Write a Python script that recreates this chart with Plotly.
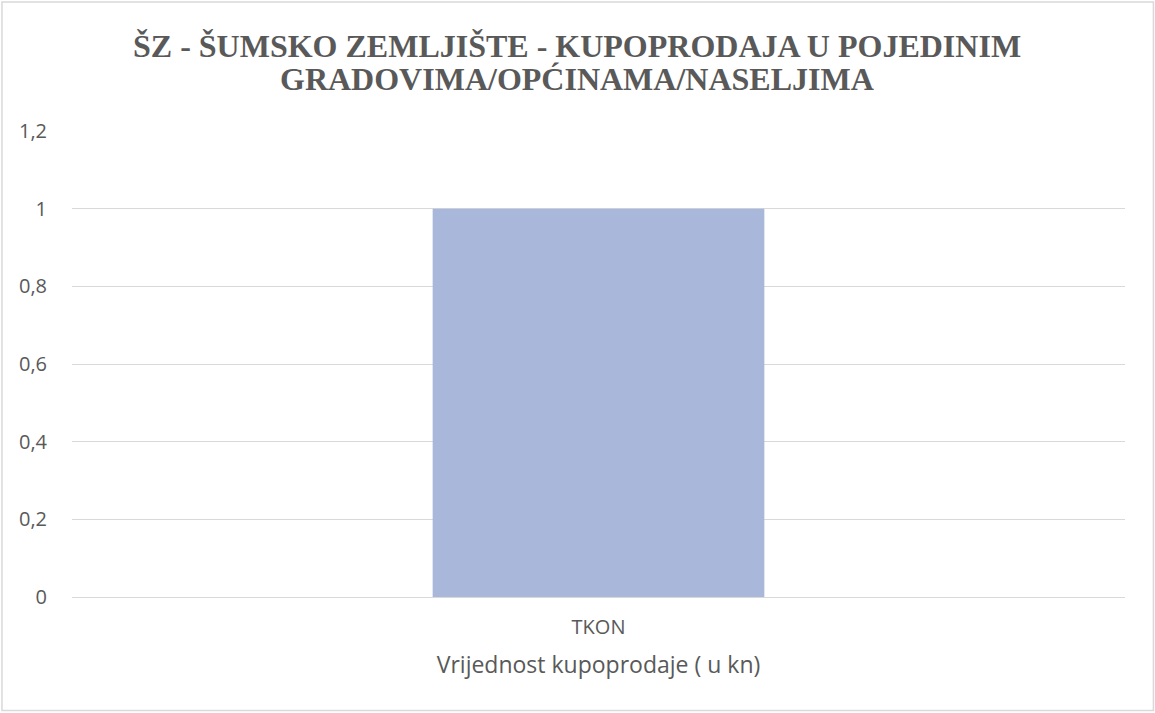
import plotly.graph_objects as go

categories = ["TKON"]
values = [1]
y_ticks = [0, 0.2, 0.4, 0.6, 0.8, 1, 1.2]
title_lines = ["ŠZ - ŠUMSKO ZEMLJIŠTE - KUPOPRODAJA U POJEDINIM", "GRADOVIMA/OPĆINAMA/NASELJIMA"]

TEXT = "#595959"
GRID = "#D9D9D9"
SANS = "Open Sans, sans-serif"
SERIF = "Liberation Serif, Times New Roman, serif"

fig = go.Figure()
fig.add_trace(
    go.Bar(
        x=categories,
        y=values,
        marker=dict(color="#A9B7DB", line=dict(width=0)),
        hoverinfo="x+y",
    )
)

# two-line title, placed as separate annotations to get the tight line spacing
# (centred on the whole chart, not on the plot area)
for line, ypos in zip(title_lines, [1.183, 1.111]):
    fig.add_annotation(
        text=f"<b>{line}</b>", xref="paper", yref="paper", x=0.48, y=ypos,
        xanchor="center", yanchor="middle", showarrow=False,
        font=dict(family=SERIF, size=32, color=TEXT),
    )

fig.update_layout(
    width=1155,
    height=713,
    margin=dict(l=72, r=30, t=131, b=116),
    paper_bgcolor="white",
    plot_bgcolor="white",
    separators=",.",
    bargap=0.685,
    showlegend=False,
    font=dict(family=SANS, color=TEXT, size=20),
    # thin grey frame round the whole chart
    shapes=[
        dict(
            type="rect", xref="paper", yref="paper",
            x0=-0.0665, x1=1.027, y0=-0.2436, y1=1.2768,
            line=dict(color="#D9D9D9", width=1.5), layer="below",
        )
    ],
)

fig.update_xaxes(
    showgrid=False,
    showline=False,
    ticks="",
    ticklabelstandoff=16,
    tickfont=dict(size=20, color=TEXT),
    title=dict(text="Vrijednost kupoprodaje ( u kn)", font=dict(size=23, color=TEXT), standoff=17),
)
fig.update_yaxes(
    range=[0, 1.2001],
    tickvals=y_ticks,
    showgrid=True,
    gridcolor=GRID,
    gridwidth=1.3,
    zeroline=True,
    zerolinecolor=GRID,
    zerolinewidth=1.3,
    showline=False,
    ticks="",
    ticklabelstandoff=24,
    tickfont=dict(size=20, color=TEXT),
)

fig.write_html(
    "out.html",
    config={"displayModeBar": False},
    post_script="document.body.style.margin='0';",
)
